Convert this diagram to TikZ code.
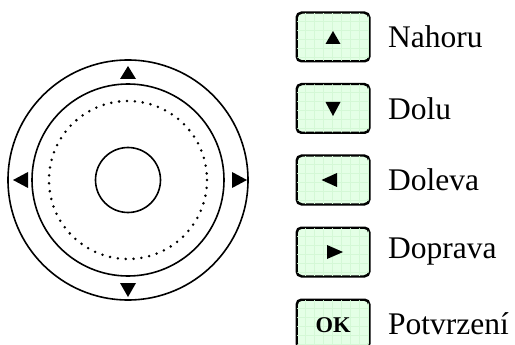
\documentclass[tikz,border=0pt]{standalone}
\usepackage{fontspec}
\setmainfont{Liberation Serif}
\begin{document}
\begin{tikzpicture}[x=1pt,y=-1pt,
  ring/.style={draw=black,line width=1.6pt},
  dotring/.style={draw=black,line width=2.8pt,line cap=round,dash pattern=on 0pt off 7.9pt},
  tri/.style={fill=black},
  btn/.style={draw=black,line width=1.5pt,rounded corners=5pt,fill=btnfill,minimum width=72pt,minimum height=48pt,inner sep=0pt},
  lbl/.style={anchor=west,inner sep=0pt,font=\fontsize{31.5}{32}\selectfont}
]
\definecolor{btnfill}{RGB}{228,255,230}
\definecolor{gridc}{RGB}{212,248,214}
\useasboundingbox (0,0) rectangle (515,345);
% joystick
\coordinate (c) at (128,180);
\draw[ring] (c) circle (120);
\draw[ring] (c) circle (96);
\draw[dotring] (c) circle (79);
\draw[ring] (c) circle (32.5);
\fill[tri] (128,66) -- (136,79) -- (120,79) -- cycle;
\fill[tri] (128,297) -- (136,283) -- (120,283) -- cycle;
\fill[tri] (13,180) -- (28,172) -- (28,188) -- cycle;
\fill[tri] (247,180) -- (232,172) -- (232,188) -- cycle;
% buttons
\foreach \n/\y in {1/37,2/108.5,3/180,4/252,5/324}{
  \node[btn] (b\n) at (333,\y) {};
  \begin{scope}
    \clip[rounded corners=5pt] (b\n.south west) rectangle (b\n.north east);
    \foreach \gx in {0,9,...,72} \draw[gridc,line width=0.5pt] ([xshift=\gx pt]b\n.north west) -- ([xshift=\gx pt]b\n.south west);
    \foreach \gy in {0,9,...,48} \draw[gridc,line width=0.5pt] ([yshift=-\gy pt]b\n.north west) -- ([yshift=-\gy pt]b\n.north east);
  \end{scope}
  \draw[line width=1.5pt,rounded corners=5pt] (b\n.south west) rectangle (b\n.north east);
}
\fill[tri] (333,31) -- (340.5,44) -- (325.5,44) -- cycle;
\fill[tri] (333,116) -- (340.5,102) -- (325.5,102) -- cycle;
\fill[tri] (321.5,180) -- (337,173) -- (337,187) -- cycle;
\fill[tri] (343,252) -- (327,245) -- (327,259) -- cycle;
\node[inner sep=0pt,font=\fontsize{22.5}{22.5}\selectfont\bfseries] (ok) at (333,325) {OK};
% labels
\node[lbl] (l1) at (388,37) {Nahoru};
\node[lbl] (l2) at (388,108.5) {Dolu};
\node[lbl] (l3) at (388,180) {Doleva};
\node[lbl] (l4) at (388,252) {Doprava};
\node[lbl] (l5) at (388,324) {Potvrzení};
\end{tikzpicture}
\end{document}
